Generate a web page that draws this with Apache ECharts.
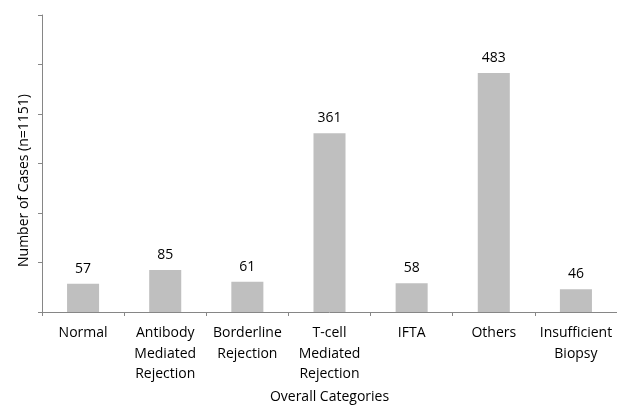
<!DOCTYPE html>
<html><head><meta charset="utf-8">
<script src="https://cdn.jsdelivr.net/npm/echarts@6/dist/echarts.min.js"></script>
<style>html,body{margin:0;padding:0;background:#fff}#c{width:617px;height:405px}</style>
</head><body><div id="c"></div>
<script>
const categories = ["Normal", "Antibody\nMediated\nRejection", "Borderline\nRejection", "T-cell\nMediated\nRejection", "IFTA", "Others", "Insufficient\nBiopsy"];
const cases = [57, 85, 61, 361, 58, 483, 46];
const yMin = 0, yMax = 600, yInterval = 100;

const font = "'Open Sans', 'Liberation Sans', sans-serif";
const chart = echarts.init(document.getElementById('c'), null, {renderer: 'canvas'});
chart.setOption({
  animation: false,
  backgroundColor: '#fff',
  grid: {left: 42, right: 0, top: 15, bottom: 93, containLabel: false, outerBoundsMode: 'none'},
  xAxis: {
    type: 'category', data: categories,
    name: 'Overall Categories', nameLocation: 'middle', nameGap: 78,
    nameTextStyle: {fontFamily: font, fontSize: 14, color: '#000'},
    axisLine: {lineStyle: {color: '#868686', width: 1}},
    axisTick: {show: true, length: 4, lineStyle: {color: '#868686'}},
    axisLabel: {interval: 0, fontFamily: font, fontSize: 14, color: '#000', lineHeight: 20.5, margin: 11}
  },
  yAxis: {
    type: 'value', min: yMin, max: yMax, interval: yInterval,
    name: 'Number of Cases (n=1151)', nameLocation: 'middle', nameGap: 11,
    nameTextStyle: {fontFamily: font, fontSize: 14, color: '#000', padding: [0, 34, 0, 0]},
    axisLine: {show: true, lineStyle: {color: '#868686', width: 1}},
    axisTick: {show: true, length: 4, lineStyle: {color: '#868686'}},
    axisLabel: {show: false},
    splitLine: {show: false}
  },
  series: [{
    type: 'bar', data: cases, barWidth: '39%',
    itemStyle: {color: '#BFBFBF'},
    label: {show: true, position: 'top', distance: 8, fontFamily: font, fontSize: 14, color: '#000'}
  }]
});
</script></body></html>
